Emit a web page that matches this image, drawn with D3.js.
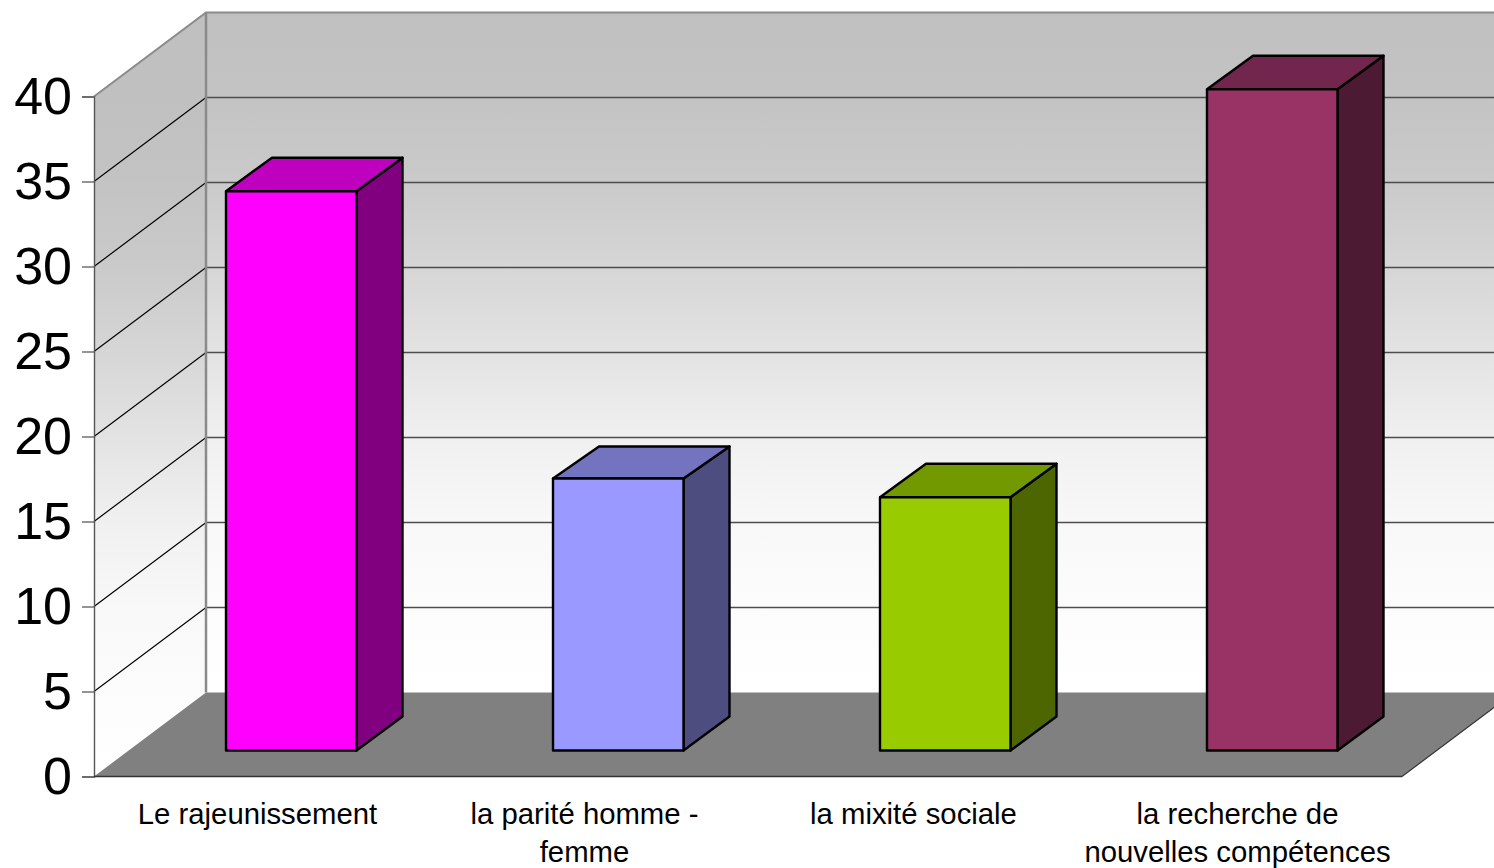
<!DOCTYPE html>
<html>
<head>
<meta charset="utf-8">
<script src="https://cdn.jsdelivr.net/npm/d3@7"></script>
<style>
html, body { margin: 0; padding: 0; background: #fff; overflow: hidden; }
svg { display: block; }
text { font-family: "Liberation Sans", Arial, sans-serif; fill: #000; }
</style>
</head>
<body>
<div id="graph"></div>
<script>
// values
var categories = ["Le rajeunissement", "la parité homme - femme", "la mixité sociale", "la recherche de nouvelles compétences"];
var labelLines = [["Le rajeunissement"], ["la parité homme -", "femme"], ["la mixité sociale"], ["la recherche de", "nouvelles compétences"]];
var values = [32.9, 16, 14.9, 38.9];
var frontColors = ["#ff00ff", "#9999ff", "#99cc00", "#993366"];
var topColors = ["#bf00bf", "#7373bf", "#739900", "#73264d"];
var sideColors = ["#800080", "#4d4d80", "#4d6600", "#4d1a33"];
var yTicks = [0, 5, 10, 15, 20, 25, 30, 35, 40];

var width = 1494, height = 868;

// front plane of the box and the depth of the 3d effect
var plotLeft = 94, plotRight = 1402, plotBottom = 776.5, plotTop = 96.5;
var depth = {x: 112, y: -84};
var barDepth = {x: 46, y: -34};
var barShift = {x: 33.75, y: -26};
var barWidth = 130.5;
// the original rounds the top faces a bit differently per bar
var topDepth = [-33.5, -32, -33.5, -33.5];
var labelNudge = [0, 0, 2, -1];

var x = d3.scaleBand().domain(categories).range([plotLeft, plotRight]);
var y = d3.scaleLinear().domain([0, 40]).range([plotBottom, plotTop]);

var svg = d3.select("#graph").append("svg")
    .attr("width", width)
    .attr("height", height);

// walls have a grey to white gradient, slow at both ends
var wallStops = [[0, "#c0c0c0"], [0.12, "#c3c3c3"], [0.25, "#cacaca"], [0.375, "#d6d6d6"],
    [0.5, "#e3e3e3"], [0.625, "#f0f0f0"], [0.75, "#f8f8f8"], [0.875, "#fcfcfc"], [1, "#ffffff"]];

var defs = svg.append("defs");
function wallGradient(id, y1, y2) {
    var grad = defs.append("linearGradient")
        .attr("id", id)
        .attr("gradientUnits", "userSpaceOnUse")
        .attr("x1", 0).attr("x2", 0)
        .attr("y1", y1).attr("y2", y2);
    grad.selectAll("stop")
        .data(wallStops)
        .enter().append("stop")
        .attr("offset", function (d) { return d[0]; })
        .attr("stop-color", function (d) { return d[1]; });
}
wallGradient("wall", y(40) + depth.y, y(0) + depth.y);
wallGradient("sidewall", y(40), y(0));

function poly(points) {
    return points.map(function (p) { return p.join(","); }).join(" ");
}

var backL = plotLeft + depth.x, backR = plotRight + depth.x;

// side wall
svg.append("polygon")
    .attr("points", poly([[plotLeft, y(0)], [plotLeft, y(40)], [backL, y(40) + depth.y], [backL, y(0) + depth.y]]))
    .attr("fill", "url(#sidewall)");

// back wall
svg.append("polygon")
    .attr("points", poly([[backL, y(0) + depth.y], [backL, y(40) + depth.y], [backR, y(40) + depth.y], [backR, y(0) + depth.y]]))
    .attr("fill", "url(#wall)");

// floor
svg.append("polygon")
    .attr("points", poly([[plotLeft, y(0)], [backL, y(0) + depth.y], [backR, y(0) + depth.y], [plotRight, y(0)]]))
    .attr("fill", "#808080");

// grid lines on both walls
var grid = yTicks.filter(function (d) { return d > 0 && d < 40; });
svg.selectAll(".grid-back")
    .data(grid)
    .enter().append("line")
    .attr("class", "grid-back")
    .attr("x1", backL).attr("x2", backR)
    .attr("y1", function (d) { return y(d) + depth.y; })
    .attr("y2", function (d) { return y(d) + depth.y; })
    .attr("stroke", "#4d4d4d")
    .attr("stroke-width", 1.5);

svg.selectAll(".grid-side")
    .data(grid)
    .enter().append("line")
    .attr("class", "grid-side")
    .attr("x1", plotLeft).attr("x2", backL)
    .attr("y1", function (d) { return y(d); })
    .attr("y2", function (d) { return y(d) + depth.y; })
    .attr("stroke", "#000")
    .attr("stroke-width", 1.2);

// wall outlines
svg.append("polyline")
    .attr("points", poly([[plotLeft, y(40)], [backL, y(40) + depth.y], [backR, y(40) + depth.y]]))
    .attr("fill", "none")
    .attr("stroke", "#8a8a8a")
    .attr("stroke-width", 2);
svg.append("line")
    .attr("x1", backL).attr("x2", backL)
    .attr("y1", y(40) + depth.y).attr("y2", y(0) + depth.y)
    .attr("stroke", "#8a8a8a")
    .attr("stroke-width", 2.5);

// floor edge on the right
svg.append("line")
    .attr("x1", plotRight).attr("x2", backR)
    .attr("y1", y(0)).attr("y2", y(0) + depth.y)
    .attr("stroke", "#333")
    .attr("stroke-width", 1.2);

// bars, front/top/side faces
var bars = svg.selectAll(".bar")
    .data(values)
    .enter().append("g")
    .attr("class", "bar");

function corners(d, i) {
    var x0 = x(categories[i]) + (x.bandwidth() - barWidth) / 2 + barShift.x;
    return {x0: x0, x1: x0 + barWidth, y0: y(0) + barShift.y, y1: y(d) + barShift.y};
}

bars.append("polygon")
    .attr("points", function (d, i) {
        var c = corners(d, i);
        return poly([[c.x1, c.y1], [c.x1 + barDepth.x, c.y1 + topDepth[i]], [c.x1 + barDepth.x, c.y0 + barDepth.y], [c.x1, c.y0]]);
    })
    .attr("fill", function (d, i) { return sideColors[i]; });

bars.append("polygon")
    .attr("points", function (d, i) {
        var c = corners(d, i);
        return poly([[c.x0, c.y1], [c.x0 + barDepth.x, c.y1 + topDepth[i]], [c.x1 + barDepth.x, c.y1 + topDepth[i]], [c.x1, c.y1]]);
    })
    .attr("fill", function (d, i) { return topColors[i]; });

bars.append("rect")
    .attr("x", function (d, i) { return corners(d, i).x0; })
    .attr("y", function (d, i) { return corners(d, i).y1; })
    .attr("width", barWidth)
    .attr("height", function (d, i) { var c = corners(d, i); return c.y0 - c.y1; })
    .attr("fill", function (d, i) { return frontColors[i]; });

bars.selectAll("polygon, rect")
    .attr("stroke", "#000")
    .attr("stroke-width", 2.4)
    .attr("stroke-linejoin", "round");

// y axis
var yAxis = svg.append("g")
    .attr("transform", "translate(" + plotLeft + ",0)")
    .call(d3.axisLeft(y).tickValues(yTicks).tickSize(12).tickPadding(10));
yAxis.select(".domain").attr("stroke", "#555").attr("stroke-width", 1.4);
yAxis.selectAll(".tick line").attr("stroke", "#666").attr("stroke-width", 1.4);
yAxis.selectAll("text")
    .attr("font-family", "Liberation Sans")
    .attr("font-size", 52);

// base line of the box
svg.append("line")
    .attr("x1", plotLeft).attr("x2", plotRight)
    .attr("y1", y(0)).attr("y2", y(0))
    .attr("stroke", "#333")
    .attr("stroke-width", 1.4);

// category labels
var labels = svg.selectAll(".label")
    .data(categories)
    .enter().append("text")
    .attr("class", "label")
    .attr("text-anchor", "middle")
    .attr("font-size", 29.3)
    .attr("y", 824);

labels.selectAll("tspan")
    .data(function (d, i) {
        return labelLines[i].map(function (t) { return {text: t, cat: d, nudge: labelNudge[i]}; });
    })
    .enter().append("tspan")
    .attr("x", function (d) { return x(d.cat) + x.bandwidth() / 2 + d.nudge; })
    .attr("dy", function (d, j) { return j ? 38 : 0; })
    .text(function (d) { return d.text; });
</script>
</body>
</html>
